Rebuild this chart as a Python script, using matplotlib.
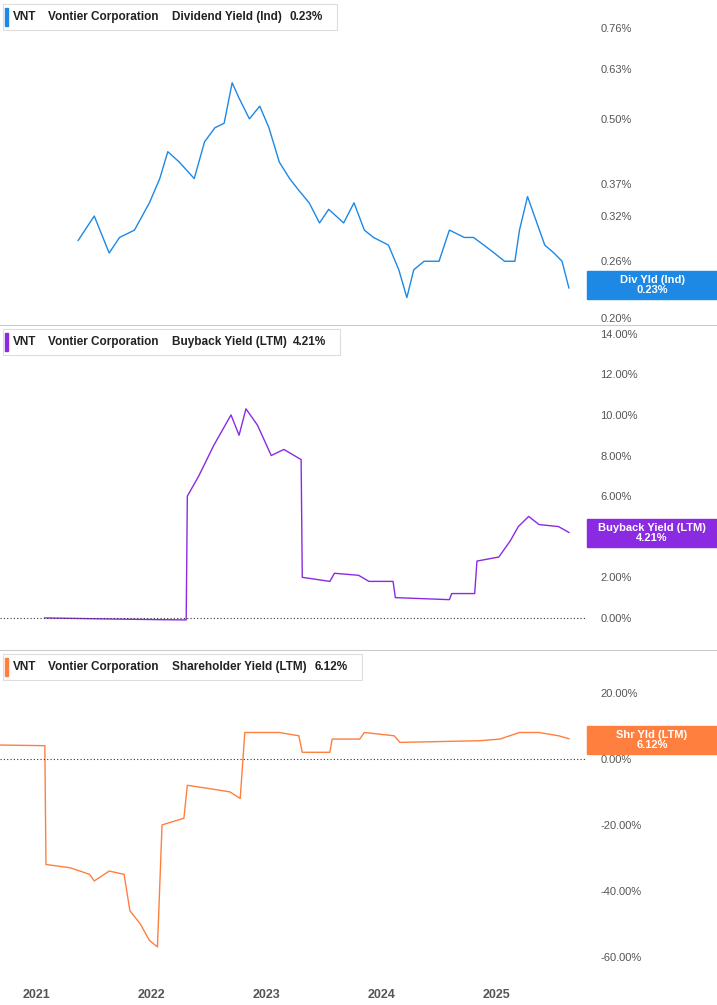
import matplotlib.pyplot as plt
from matplotlib.ticker import FixedLocator, NullLocator

plt.rcParams["font.family"] = "Liberation Sans"

# x positions as fractional years
div_t = [2021.36, 2021.50, 2021.63, 2021.72, 2021.85, 2021.98, 2022.07, 2022.14, 2022.24, 2022.37,
         2022.46, 2022.55, 2022.63, 2022.70, 2022.76, 2022.85, 2022.94, 2023.02, 2023.11, 2023.20,
         2023.28, 2023.37, 2023.46, 2023.54, 2023.67, 2023.76, 2023.85, 2023.93, 2024.06, 2024.15,
         2024.22, 2024.28, 2024.37, 2024.50, 2024.59, 2024.72, 2024.80, 2024.89, 2024.98, 2025.07,
         2025.16, 2025.20, 2025.27, 2025.33, 2025.42, 2025.50, 2025.57, 2025.63]
div_v = [0.286, 0.32, 0.27, 0.29, 0.30, 0.34, 0.38, 0.43, 0.41, 0.38,
         0.45, 0.48, 0.49, 0.59, 0.55, 0.50, 0.53, 0.48, 0.41, 0.38,
         0.36, 0.34, 0.31, 0.33, 0.31, 0.34, 0.30, 0.29, 0.28, 0.25,
         0.22, 0.25, 0.26, 0.26, 0.30, 0.29, 0.29, 0.28, 0.27, 0.26,
         0.26, 0.30, 0.35, 0.32, 0.28, 0.27, 0.26, 0.23]

bb_t = [2021.07, 2021.60, 2022.00, 2022.30, 2022.31, 2022.41, 2022.54, 2022.69, 2022.76, 2022.82,
        2022.92, 2023.04, 2023.15, 2023.30, 2023.31, 2023.55, 2023.59, 2023.80, 2023.89, 2024.10,
        2024.12, 2024.59, 2024.61, 2024.81, 2024.83, 2025.02, 2025.12, 2025.19, 2025.28, 2025.37,
        2025.54, 2025.63]
bb_v = [0.0, -0.05, -0.08, -0.1, 6.0, 7.0, 8.5, 10.0, 9.0, 10.3,
        9.5, 8.0, 8.3, 7.8, 2.0, 1.8, 2.2, 2.1, 1.8, 1.8,
        1.0, 0.9, 1.2, 1.2, 2.8, 3.0, 3.8, 4.5, 5.0, 4.6,
        4.5, 4.21]

sh_t = [2020.68, 2021.07, 2021.08, 2021.29, 2021.46, 2021.50, 2021.63, 2021.76, 2021.81, 2021.90,
        2021.98, 2022.05, 2022.09, 2022.28, 2022.31, 2022.50, 2022.68, 2022.77, 2022.81, 2023.11,
        2023.28, 2023.31, 2023.55, 2023.57, 2023.81, 2023.85, 2024.11, 2024.16, 2024.85, 2025.03,
        2025.20, 2025.37, 2025.54, 2025.63]
sh_v = [4.2, 4.0, -32, -33, -35, -37, -34, -35, -46, -50,
        -55, -57, -20, -18, -8, -9, -10, -12, 8, 8,
        7, 2, 2, 6, 6, 8, 7, 5, 5.5, 6,
        8, 8, 7, 6.12]

years = [2021, 2022, 2023, 2024, 2025]

fig = plt.figure(figsize=(7.17, 10.05), dpi=100)
W, H = 717, 1005
def panel(top, bot):
    return fig.add_axes([0, 1 - bot / H, 585 / W, (bot - top) / H])

ax1 = panel(0, 325)
ax2 = panel(325, 650)
ax3 = panel(650, 975)

ax1.plot(div_t, div_v, color="#1e88e5", lw=1)
ax1.set_yscale("log")
ax1.set_ylim(0.194, 0.863)
ax1.yaxis.set_major_locator(FixedLocator([0.20, 0.26, 0.32, 0.37, 0.50, 0.63, 0.76]))
ax1.yaxis.set_minor_locator(NullLocator())
ax1.set_yticklabels(["0.20%", "0.26%", "0.32%", "0.37%", "0.50%", "0.63%", "0.76%"])

ax2.plot(bb_t, bb_v, color="#8a2be2", lw=1)
ax2.set_ylim(-1.58, 14.43)
ax2.set_yticks([0, 2, 4, 6, 8, 10, 12, 14])
ax2.set_yticklabels(["0.00%", "2.00%", "", "6.00%", "8.00%", "10.00%", "12.00%", "14.00%"])
ax2.axhline(0, color="#333333", lw=0.8, ls=(0, (1, 2)))

ax3.plot(sh_t, sh_v, color="#ff7f3f", lw=1)
ax3.set_ylim(-65.5, 33)
ax3.set_yticks([-60, -40, -20, 0, 20])
ax3.set_yticklabels(["-60.00%", "-40.00%", "-20.00%", "0.00%", "20.00%"])
ax3.axhline(0, color="#333333", lw=0.8, ls=(0, (1, 2)))

for ax in (ax1, ax2, ax3):
    ax.set_xlim(2020.68, 2025.77)
    ax.yaxis.tick_right()
    ax.tick_params(axis="y", length=0, labelsize=8, labelcolor="#555555", pad=11)
    for s in ("top", "left", "bottom", "right"):
        ax.spines[s].set_visible(False)
    ax.set_xticks([])

ax3.set_xticks(years)
ax3.set_xticklabels([str(y) for y in years])
ax3.tick_params(axis="x", length=0, labelsize=9, labelcolor="#555555", pad=10)
for lab in ax3.get_xticklabels():
    lab.set_fontweight("bold")

for yy in (325, 650):
    fig.add_artist(plt.Line2D([0, 1], [1 - yy / H] * 2, color="#cccccc", lw=0.8))

# legends
legends = [(0, "Dividend Yield (Ind)", "0.23%", "#1e88e5", 337),
           (325, "Buyback Yield (LTM)", "4.21%", "#8a2be2", 340),
           (650, "Shareholder Yield (LTM)", "6.12%", "#ff7f3f", 362)]
for top, name, val, col, right in legends:
    y0 = 1 - (top + 30) / H
    fig.add_artist(plt.Rectangle((3 / W, y0), (right - 3) / W, 26 / H, fill=True,
                                 facecolor="white", edgecolor="#dddddd", lw=0.8))
    fig.add_artist(plt.Rectangle((5 / W, y0 + 4 / H), 3 / W, 18 / H, color=col))
    yt = 1 - (top + 17) / H
    kw = dict(fontsize=8.5, fontweight="bold", va="center", color="#222222")
    fig.text(13 / W, yt, "VNT", **kw)
    fig.text(48 / W, yt, "Vontier Corporation", **kw)
    fig.text(172 / W, yt, name, **kw)
    fig.text((right - 14) / W, yt, val, ha="right", **kw)

# right value tags
tags = [(271, 299, "Div Yld (Ind)\n0.23%", "#1e88e5"),
        (519, 547, "Buyback Yield (LTM)\n4.21%", "#8a2be2"),
        (726, 754, "Shr Yld (LTM)\n6.12%", "#ff7f3f")]
for t, b, txt, col in tags:
    fig.add_artist(plt.Rectangle((587 / W, 1 - b / H), 130 / W, (b - t) / H, color=col))
    fig.text(652 / W, 1 - (t + b) / 2 / H, txt, fontsize=8, fontweight="bold", color="white",
             ha="center", va="center", linespacing=1.1)

fig.savefig("out.png", dpi=100)
